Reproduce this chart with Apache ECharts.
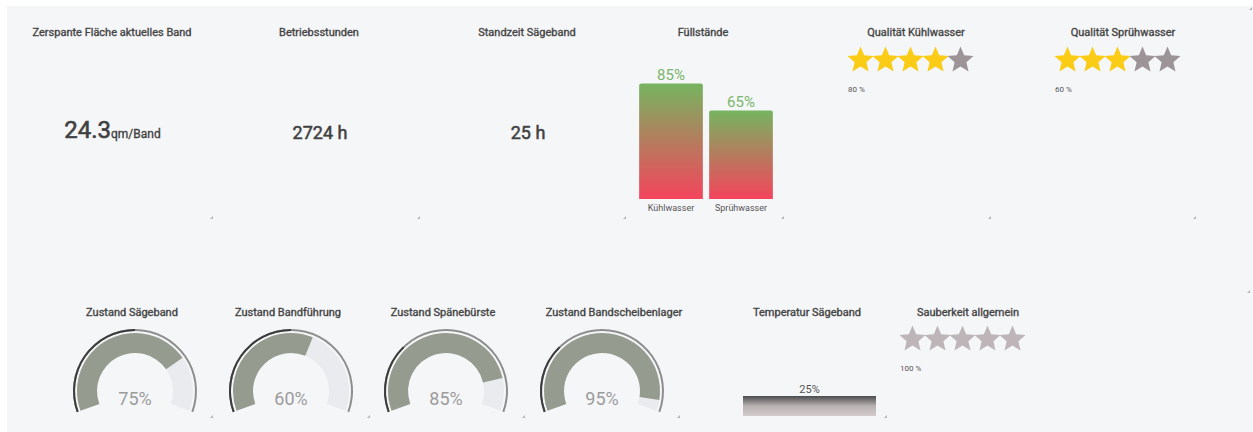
<!DOCTYPE html>
<html>
<head>
<meta charset="utf-8">
<script src="https://cdn.jsdelivr.net/npm/echarts@6/dist/echarts.min.js"></script>
<style>
  html, body { margin: 0; padding: 0; background: #ffffff; }
  #dashboard { width: 1253px; height: 432px; }
</style>
</head>
<body>
<div id="dashboard"></div>
<script>
// KPI tiles
const kpiTitles = ['Zerspante Fläche aktuelles Band', 'Betriebsstunden', 'Standzeit Sägeband'];
const kpiValues = [24.3, 2724, 25];
const kpiUnits = ['qm/Band', 'h', 'h'];

// Füllstände
const levelCategories = ['Kühlwasser', 'Sprühwasser'];
const levelValues = [85, 65];

// star ratings
const ratingTitles = ['Qualität Kühlwasser', 'Qualität Sprühwasser', 'Sauberkeit allgemein'];
const ratingValues = [80, 60, 100];
const starSlots = [1, 2, 3, 4, 5];

// gauges
const conditionTitles = ['Zustand Sägeband', 'Zustand Bandführung', 'Zustand Spänebürste', 'Zustand Bandscheibenlager'];
const conditionValues = [75, 60, 85, 95];
const conditionMarks = [50, 50, 30, 30];

// temperature
const tempCategories = ['Temperatur Sägeband'];
const tempValues = [25];

const FONT = 'Roboto, "Noto Sans", sans-serif';
const STAR = 'path://M12 17.27L18.18 21l-1.64-7.03L22 9.24l-7.19-.61L12 2 9.19 8.63 2 9.24l5.46 4.73L5.82 21z';
const TITLE_COLOR = '#444444';

// layout of the widgets
const kpiX = [112, 319, 527];
const ratingLayout = [
  { title: [916, 32], left: 848, top: 47, note: [848, 89], on: '#fbcc16', off: '#9c9497' },
  { title: [1123, 32], left: 1055, top: 47, note: [1055, 89], on: '#fbcc16', off: '#9c9497' },
  { title: [968, 312], left: 900, top: 326, note: [900, 368], on: '#bdb5b7', off: '#bdb5b7' }
];
const gaugeCenters = [135, 291, 446, 602];
const conditionTitleX = [132, 288, 443, 614];

// medium = regular face with a hairline outline, looks like Roboto Medium
function txt(x, y, text, size, color, medium, align) {
  const style = {
    text: text, fill: color, textAlign: align || 'center', textVerticalAlign: 'middle',
    font: 'normal ' + size + 'px ' + FONT
  };
  if (medium) { style.stroke = color; style.lineWidth = medium; }
  return { type: 'text', x: x, y: y, silent: true, style: style };
}

function corner(x, y) {
  return {
    type: 'polygon', silent: true,
    shape: { points: [[x + 3, y], [x + 3, y + 3], [x, y + 3]] },
    style: { fill: '#b5b5b5' }
  };
}

const graphic = [
  { type: 'rect', silent: true, z: -10, shape: { x: 7, y: 6, width: 1246, height: 426 }, style: { fill: '#f5f6f8' } }
];

// top row titles and KPI values
kpiTitles.forEach((t, i) => graphic.push(txt(kpiX[i], 32, t, 11, TITLE_COLOR, 0.35)));
graphic.push(txt(111, 130, String(kpiValues[0]), 24, '#404040', 0.6, 'right'));
graphic.push(txt(111, 134, kpiUnits[0], 12, '#404040', 0.3, 'left'));
for (let i = 1; i < kpiValues.length; i++) {
  graphic.push(txt(kpiX[i] + 1, 132, kpiValues[i] + ' ' + kpiUnits[i], 18, '#404040', 0.5));
}
graphic.push(txt(703, 32, 'Füllstände', 11, TITLE_COLOR, 0.35));

ratingTitles.forEach((t, i) => {
  const L = ratingLayout[i];
  graphic.push(txt(L.title[0], L.title[1], t, 11, TITLE_COLOR, 0.35));
  graphic.push(txt(L.note[0], L.note[1], ratingValues[i] + ' %', 8, '#555555', 0, 'left'));
});

conditionTitles.forEach((t, i) => graphic.push(txt(conditionTitleX[i], 312, t, 11, TITLE_COLOR, 0.35)));
graphic.push(txt(807, 312, tempCategories[0], 11, TITLE_COLOR, 0.35));

// small resize handles of the tiles
[[210, 216], [417, 216], [623, 216], [781, 216], [988, 216], [1193, 216], [1249, 7], [1247, 290],
 [210, 415], [367, 415], [522, 415], [677, 415], [884, 415]].forEach(p => graphic.push(corner(p[0], p[1])));

const grids = [
  { left: 636, top: 63, width: 140, height: 136 }
];
const xAxes = [{
  gridIndex: 0, type: 'category', data: levelCategories,
  axisLine: { show: false }, axisTick: { show: false },
  axisLabel: { fontSize: 9, color: '#555555', margin: 4, fontFamily: FONT }
}];
const yAxes = [{ gridIndex: 0, type: 'value', min: 0, max: 100, show: false }];

const series = [{
  type: 'bar', xAxisIndex: 0, yAxisIndex: 0, data: levelValues, barWidth: '91%',
  itemStyle: {
    borderRadius: [2, 2, 0, 0],
    color: { type: 'linear', x: 0, y: 0, x2: 0, y2: 1,
      colorStops: [{ offset: 0, color: '#76b460' }, { offset: 1, color: '#f4445c' }] }
  },
  label: { show: true, position: 'top', distance: 1, formatter: '{c}%', fontSize: 15, color: '#79b56a', fontFamily: FONT }
}];

// star ratings as scatter symbols
ratingLayout.forEach((L, i) => {
  const gi = grids.length;
  grids.push({ left: L.left, top: L.top, width: 125, height: 24 });
  xAxes.push({ gridIndex: gi, type: 'category', data: starSlots, show: false });
  yAxes.push({ gridIndex: gi, type: 'value', min: -1, max: 1, show: false });
  series.push({
    type: 'scatter', xAxisIndex: gi, yAxisIndex: gi, symbol: STAR, symbolSize: [26, 25], silent: true,
    data: starSlots.map((s, k) => ({
      value: [k, 0],
      itemStyle: { color: s * 20 <= ratingValues[i] ? L.on : L.off, opacity: 1 }
    }))
  });
});

// temperature bar
const tg = grids.length;
grids.push({ left: 743, top: 336, width: 133, height: 80 });
xAxes.push({ gridIndex: tg, type: 'category', data: tempCategories, show: false });
yAxes.push({ gridIndex: tg, type: 'value', min: 0, max: 100, show: false });
series.push({
  type: 'bar', xAxisIndex: tg, yAxisIndex: tg, data: tempValues, barWidth: '100%',
  itemStyle: {
    color: { type: 'linear', x: 0, y: 0, x2: 0, y2: 1,
      colorStops: [{ offset: 0, color: '#4c4c4c' }, { offset: 0.5, color: '#b9b2b3' }, { offset: 1, color: '#d3cbcc' }] }
  },
  label: { show: true, position: 'top', distance: 1, formatter: '{c}%', fontSize: 11, color: '#555555', fontFamily: FONT }
});

// condition gauges
conditionValues.forEach((v, i) => {
  const base = {
    type: 'gauge', center: [gaugeCenters[i], 391], startAngle: 200, endAngle: -20, min: 0, max: 100,
    pointer: { show: false }, axisTick: { show: false }, splitLine: { show: false },
    axisLabel: { show: false }, anchor: { show: false }, title: { show: false }, silent: true
  };
  series.push(Object.assign({}, base, {
    radius: 58,
    progress: { show: true, width: 20, itemStyle: { color: '#969b8f' } },
    axisLine: { lineStyle: { width: 20, color: [[1, '#e9ebef']] } },
    detail: { offsetCenter: [0, 7], formatter: '{value}%', fontSize: 18, fontWeight: 'normal', color: '#9c9c9c', fontFamily: FONT },
    data: [{ value: v }]
  }));
  series.push(Object.assign({}, base, {
    radius: 62,
    progress: { show: true, width: 2, itemStyle: { color: '#3d3d3d' } },
    axisLine: { lineStyle: { width: 2, color: [[1, '#8e8e8e']] } },
    detail: { show: false },
    data: [{ value: conditionMarks[i] }]
  }));
});

const chart = echarts.init(document.getElementById('dashboard'), null, { renderer: 'svg' });
chart.setOption({
  animation: false,
  backgroundColor: '#ffffff',
  textStyle: { fontFamily: FONT },
  graphic: graphic,
  grid: grids,
  xAxis: xAxes,
  yAxis: yAxes,
  series: series
});
</script>
</body>
</html>
